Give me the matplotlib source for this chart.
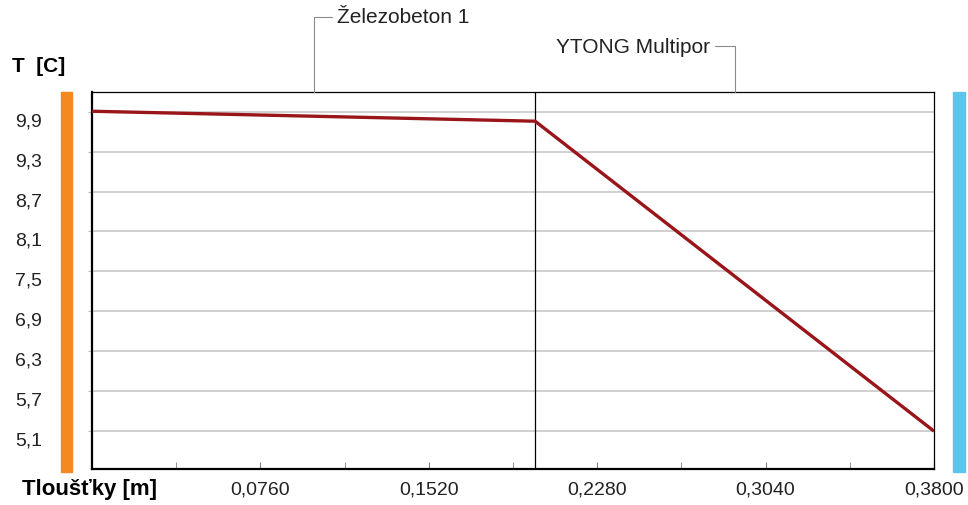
import matplotlib
matplotlib.use("Agg")
import matplotlib.pyplot as plt
import matplotlib.transforms as mtransforms
from matplotlib.patches import Rectangle
import numpy as np

# layers of the wall
layerNames = ["Železobeton 1", "YTONG Multipor"]
layerThickness = [0.20, 0.18]

# temperature profile through the wall
depth = [0.0, 0.20, 0.38]
temp = [9.91, 9.76, 5.09]

yTicks = [5.1, 5.7, 6.3, 6.9, 7.5, 8.1, 8.7, 9.3, 9.9]
xTickStep = 0.038

plt.rcParams['font.family'] = ['Liberation Sans', 'DejaVu Sans']

fig = plt.figure(figsize=(9.68, 5.06), dpi=100)
ax = fig.add_axes([92 / 968, 36 / 506, 842 / 968, 377 / 506])

total = sum(layerThickness)
ax.set_xlim(0, total)
ax.set_ylim(4.52, 10.2)

# grid and layer borders
for t in yTicks:
    ax.axhline(t, color='#c4c4c4', lw=1.1, zorder=1)
bounds = np.cumsum(layerThickness)[:-1]
for b in bounds:
    ax.axvline(b, color='black', lw=0.9, zorder=2)

ax.plot(depth, temp, color='#9a1519', lw=2.4, zorder=3, solid_capstyle='butt')

# spines
for side in ['left', 'bottom']:
    ax.spines[side].set_linewidth(1.6)
for side in ['top', 'right']:
    ax.spines[side].set_linewidth(0.9)

# y axis
ax.set_yticks(yTicks)
ax.set_yticklabels([f"{t:.1f}".replace('.', ',') for t in yTicks], fontsize=14, color='#222222')
ax.tick_params(axis='y', direction='out', length=3, color='#b8b8b8', pad=33)
offset = mtransforms.ScaledTranslation(0, -7 / 100, fig.dpi_scale_trans)
for lbl in ax.get_yticklabels():
    lbl.set_transform(lbl.get_transform() + offset)

# x axis
allTicks = np.arange(1, 11) * xTickStep
ax.set_xticks(allTicks[1::2])
ax.set_xticklabels([f"{t:.4f}".replace('.', ',') for t in allTicks[1::2]], fontsize=14, color='#222222')
ax.set_xticks(allTicks[0::2], minor=True)
ax.tick_params(axis='x', which='both', direction='in', length=5, color='#808080', pad=8)

# layer callouts
starts = np.concatenate([[0], np.cumsum(layerThickness)[:-1]])
for i, (name, s, th) in enumerate(zip(layerNames, starts, layerThickness)):
    c = s + th / 2
    if i % 2 == 0:
        dx, dy, ha = 17, 54, 'left'
    else:
        dx, dy, ha = -18, 33, 'right'
    ax.annotate(name, xy=(c, 1.0), xycoords=('data', 'axes fraction'),
                xytext=(dx, dy), textcoords='offset points', ha=ha, va='center',
                fontsize=15, color='#222222', annotation_clip=False,
                arrowprops=dict(arrowstyle='-', color='#8c8c8c', lw=0.8,
                                connectionstyle='angle,angleA=0,angleB=90,rad=0',
                                shrinkA=2, shrinkB=0))

# axis titles
fig.text(12 / 968, 1 - 67 / 506, "T  [C]", fontsize=15, fontweight='bold', va='center', ha='left')
fig.text(22 / 968, 1 - 490 / 506, "Tloušťky [m]", fontsize=16, fontweight='bold', va='center', ha='left')

# inside / outside colour bars
fig.patches.append(Rectangle((61 / 968, 1 - 473 / 506), 11 / 968, 380 / 506,
                             transform=fig.transFigure, color='#f5891f', zorder=0))
fig.patches.append(Rectangle((953 / 968, 1 - 473 / 506), 12 / 968, 380 / 506,
                             transform=fig.transFigure, color='#5ec4ec', zorder=0))

fig.savefig("out.png", dpi=100)
